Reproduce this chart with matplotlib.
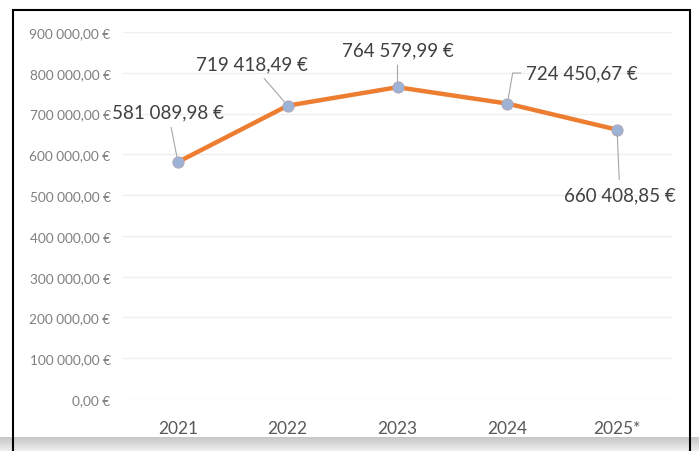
import numpy as np
import matplotlib
matplotlib.use("Agg")
from matplotlib import pyplot as plt
from matplotlib.patches import Rectangle

# data
years = ["2021", "2022", "2023", "2024", "2025*"]
values = [581089.98, 719418.49, 764579.99, 724450.67, 660408.85]
y_ticks = [0, 100000, 200000, 300000, 400000, 500000, 600000, 700000, 800000, 900000]

# label offsets in points (dx, dy) from each point
label_offsets = [(-7, 36), (-26, 30), (0, 27), (54, 22), (2, -47)]


def euro(v):
    s = "{:,.2f}".format(v)
    s = s.replace(",", " ").replace(".", ",")
    return s + " €"


def main():
    font = ["Lato", "DejaVu Sans"]
    fig = plt.figure(figsize=(6.99, 4.52), dpi=100)
    ax = fig.add_axes([123 / 699, 1 - 400 / 452, (672 - 123) / 699, (400 - 33) / 452])

    x = np.arange(len(years))
    ax.plot(x, values, color="#ED7D31", lw=3.2, solid_capstyle="round", zorder=3)
    ax.plot(x, values, "o", ms=8, mfc="#9DB3D6", mec="#B0A8B8", mew=0.8, zorder=4)

    ax.set_xlim(-0.5, len(years) - 0.5)
    ax.set_ylim(0, 900000)
    ax.set_xticks(x)
    ax.set_xticklabels(years, family=font, fontsize=12.5, color="#595959")
    ax.set_yticks(y_ticks)
    ax.set_yticklabels([euro(v) for v in y_ticks], family=font, fontsize=9.8, color="#7F7F7F")
    ax.tick_params(axis="x", length=0, pad=15)
    ax.tick_params(axis="y", length=0, pad=9)
    for sp in ax.spines.values():
        sp.set_visible(False)
    ax.grid(axis="y", color="#EFEFEF", lw=1)
    ax.set_axisbelow(True)

    for i, v in enumerate(values):
        dx, dy = label_offsets[i]
        if i == 3:
            arrow = dict(arrowstyle="-", color="#A6A6A6", lw=0.8, shrinkA=2, shrinkB=4,
                         relpos=(0, 0.5), connectionstyle="angle,angleA=180,angleB=80,rad=0")
        else:
            arrow = dict(arrowstyle="-", color="#A6A6A6", lw=0.8, shrinkA=3, shrinkB=4)
        ax.annotate(euro(v), (i, v), xytext=(dx, dy), textcoords="offset points",
                    ha="center", va="center", family=font, fontsize=13.5,
                    color="#404040", arrowprops=arrow, zorder=5)

    # grey scan band at the bottom
    band = fig.add_axes([0, 0, 1, 14 / 452], zorder=-1)
    grad = np.linspace(0.78, 0.93, 20).reshape(-1, 1)
    band.imshow(grad, cmap="gray", vmin=0, vmax=1, aspect="auto", extent=(0, 1, 0, 1), origin="upper")
    band.axis("off")

    # black frame around the chart
    fig.add_artist(Rectangle((12.5 / 699, -0.05), (690 - 12.5) / 699, 1.05 - 11 / 452,
                             transform=fig.transFigure, fill=False, ec="black", lw=1.5))

    fig.savefig("out.png", dpi=100, facecolor="white")


if __name__ == "__main__":
    main()
